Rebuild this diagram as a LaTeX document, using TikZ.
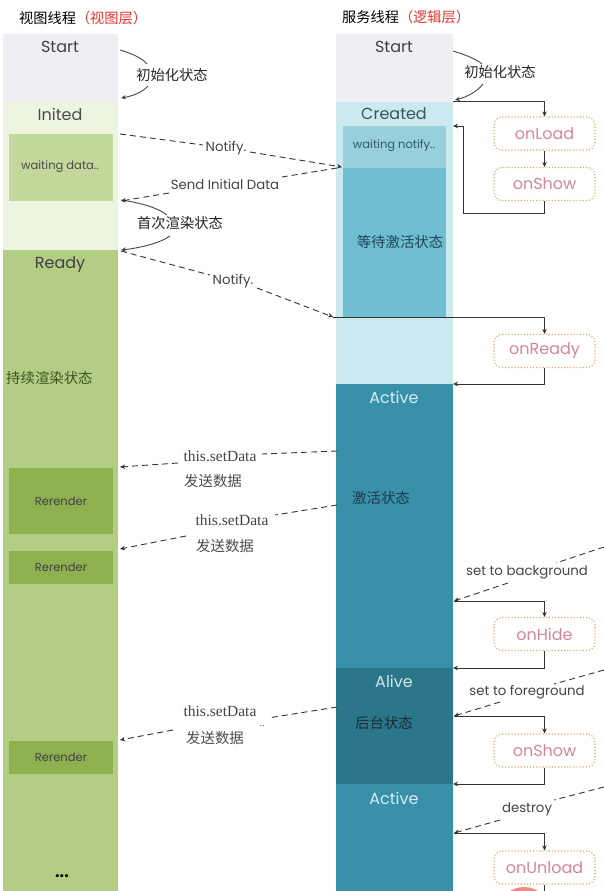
\documentclass[tikz,border=0pt]{standalone}
\usepackage{fontspec}
\setmainfont{Poppins}
\newfontfamily\cjk{Noto Sans CJK SC}
\newfontfamily\serifen{Liberation Serif}
\usetikzlibrary{arrows.meta}
\definecolor{cStart}{HTML}{EFEFF3}
\definecolor{cInit}{HTML}{EEF4E2}
\definecolor{cWaitD}{HTML}{C3D89C}
\definecolor{cReady}{HTML}{B3CD85}
\definecolor{cRer}{HTML}{8EB04F}
\definecolor{cCreated}{HTML}{CDE9F0}
\definecolor{cWaitN}{HTML}{98CFDC}
\definecolor{cWaitA}{HTML}{6EBDD0}
\definecolor{cActive}{HTML}{3891A9}
\definecolor{cAlive}{HTML}{2B7789}
\definecolor{lineC}{HTML}{333333}
\definecolor{txtC}{HTML}{444444}
\definecolor{hookB}{HTML}{DFA463}
\definecolor{hookT}{HTML}{D4869C}
\definecolor{redT}{HTML}{E8382E}
\definecolor{pinkC}{HTML}{F08A85}
\tikzset{
  blk/.style={anchor=north west, inner sep=0pt, outer sep=0pt, draw=none},
  big/.style={inner sep=0pt, font=\fontsize{16}{16}\selectfont},
  small/.style={inner sep=0pt, font=\fontsize{11.5}{12}\selectfont},
  lab/.style={inner sep=1pt, text=txtC, font=\fontsize{13.3}{14}\selectfont},
  cb/.style={inner sep=0pt, text=black!85, font=\cjk\fontsize{14.3}{15}\selectfont},
  cin/.style={inner sep=0pt, font=\cjk\fontsize{14.4}{15}\selectfont},
  sd/.style={inner sep=0pt, text=txtC, font=\serifen\fontsize{15.5}{16}\selectfont},
  hook/.style={draw=hookB, dotted, line width=1.1pt, rounded corners=8pt, fill=white,
    minimum width=101pt, minimum height=33pt, inner sep=0pt, text=hookT,
    font=\fontsize{16}{16}\selectfont},
  flow/.style={draw=lineC, line width=0.9pt, -{Stealth[length=5pt,width=4.5pt]}},
  plain/.style={draw=lineC, line width=0.9pt},
  dsh/.style={draw=lineC, line width=0.9pt, dash pattern=on 6pt off 4pt},
  dsharr/.style={dsh, -{Stealth[length=5pt,width=4.5pt]}},
  curv/.style={draw=lineC!90, line width=0.9pt},
  curvarr/.style={curv, -{Stealth[length=5pt,width=4.5pt]}}
}
\begin{document}
\begin{tikzpicture}[x=1pt,y=-1pt]
\useasboundingbox (0,0) rectangle (604,891);
\fill[white] (0,0) rectangle (604,891);

% titles
\node[anchor=west, inner sep=0pt, font=\cjk\fontsize{14.2}{15}\selectfont] (tl) at (19,18) {视图线程\textcolor{redT}{（视图层）}};
\node[anchor=west, inner sep=0pt, font=\cjk\fontsize{14.2}{15}\selectfont] (tr) at (342,17) {服务线程\textcolor{redT}{（逻辑层）}};

% left column
\node[blk, fill=cStart, minimum width=115pt, minimum height=67pt] (lS) at (3,34) {};
\node[blk, fill=cInit, minimum width=115pt, minimum height=149pt] (lI) at (3,101) {};
\node[blk, fill=cWaitD, minimum width=104pt, minimum height=67pt] (lW) at (9,134) {};
\node[blk, fill=cReady, minimum width=115pt, minimum height=641pt] (lR) at (3,250) {};
\node[blk, fill=cRer, minimum width=104pt, minimum height=66pt] (r1) at (9,468) {};
\node[blk, fill=cRer, minimum width=104pt, minimum height=33pt] (r2) at (9,551) {};
\node[blk, fill=cRer, minimum width=104pt, minimum height=33pt] (r3) at (9,741) {};

\node[big, text=black!75] (tlS) at (60,47) {Start};
\node[big, text=black!70] (tlI) at (60,114) {Inited};
\node[small, text=black!70] (tlW) at (60,167) {waiting data..};
\node[big, text=black!75] (tlR) at (60,265) {Ready};
\node[cin, anchor=west, text={rgb,255:red,60;green,85;blue,30}] (tlC) at (6,378) {持续渲染状态};
\node[small, text=black!75] at (r1.center) {Rerender};
\node[small, text=black!75] at (r2.center) {Rerender};
\node[small, text=black!75] at (r3.center) {Rerender};
\node[inner sep=0pt, font=\fontsize{16}{16}\selectfont\bfseries] (dots) at (62,876) {...};

% right column
\node[blk, fill=cStart, minimum width=117pt, minimum height=68pt] (rS) at (336,34) {};
\node[blk, fill=cCreated, minimum width=117pt, minimum height=282pt] (rC) at (336,102) {};
\node[blk, fill=cWaitN, minimum width=103pt, minimum height=42pt] (rWN) at (343,126) {};
\node[blk, fill=cWaitA, minimum width=103pt, minimum height=149pt] (rWA) at (343,168) {};
\node[blk, fill=cActive, minimum width=117pt, minimum height=284pt] (rA) at (336,384) {};
\node[blk, fill=cAlive, minimum width=117pt, minimum height=116pt] (rAl) at (336,668) {};
\node[blk, fill=cActive, minimum width=117pt, minimum height=107pt] (rA2) at (336,784) {};

\node[big, text=black!75] (trS) at (394,47) {Start};
\node[big, text={rgb,255:red,55;green,85;blue,92}] (trC) at (394,114) {Created};
\node[small, text={rgb,255:red,45;green,90;blue,105}] (trW) at (394,146) {waiting notify..};
\node[cin, text={rgb,255:red,30;green,70;blue,88}] (trWA) at (400,242) {等待激活状态};
\node[big, text={rgb,255:red,215;green,237;blue,243}] (trA) at (394,397) {Active};
\node[cin, text={rgb,255:red,28;green,58;blue,80}] (trJ) at (381,498) {激活状态};
\node[big, text={rgb,255:red,208;green,230;blue,236}] (trAl) at (394,681) {Alive};
\node[cin, text={rgb,255:red,25;green,45;blue,56}] (trH) at (384,723) {后台状态};
\node[big, text={rgb,255:red,215;green,237;blue,243}] (trA2) at (394,798) {Active};

% bottom pink circle (partially visible)
\begin{scope}
\clip (0,0) rectangle (604,891);
\fill[pinkC] (524,913) circle (26);
\end{scope}

% hooks
\node[hook] (onLoad) at (544.5,133.5) {onLoad};
\node[hook] (onShow) at (544.5,184) {onShow};
\node[hook] (onReady) at (544.5,351) {onReady};
\node[hook] (onHide) at (544.5,634) {onHide};
\node[hook] (onShowB) at (544.5,750.5) {onShow};
\node[hook] (onUnload) at (544.5,867.5) {onUnload};

% init curved arrows
\node[cb] (i1) at (172,75) {初始化状态};
\coordinate (i1a) at (120,50);
\coordinate (i1b) at (121,98);
\draw[curv] (i1a) .. controls (133,54) and (142,58) .. (147,64);
\draw[curvarr] (148,86) .. controls (143,92) and (133,96) .. (i1b);

\node[cb] (i2) at (500,72) {初始化状态};
\coordinate (i2a) at (453,51);
\coordinate (i2b) at (455,100);
\draw[curv] (i2a) .. controls (466,55) and (476,59) .. (482,64);
\draw[curvarr] (483,84) .. controls (478,91) and (467,97) .. (i2b);

\node[cb] (i3) at (180,223) {首次渲染状态};
\coordinate (i3a) at (121,200);
\coordinate (i3b) at (121,250);
\draw[curv] (i3a) .. controls (142,203) and (158,208) .. (167,215);
\draw[curvarr] (170,236) .. controls (160,243) and (140,248) .. (i3b);

% notify 1
\node[lab] (n1) at (226,148) {Notify.};
\coordinate (n1a) at (120,134);
\coordinate (n1b) at (342,167);
\draw[dsh] (n1a) -- (203,145);
\draw[dsharr] (250,152) -- (n1b);

% send initial data
\node[lab] (sid) at (225,184) {Send Initial Data};
\coordinate (sida) at (337,168);
\coordinate (sidb) at (121,201);
\draw[dsh] (sida) -- (282,177);
\draw[dsharr] (169,193) -- (sidb);

% notify 2
\node[lab] (n2) at (233,281) {Notify.};
\coordinate (n2a) at (121,251);
\coordinate (n2b) at (333,317);
\draw[dsh] (n2a) -- (210,275);
\draw[dsharr] (257,288) -- (n2b);

% setData 1
\node[sd] (s1) at (220,456) {this.setData};
\node[cin, text=black!70] (s1c) at (213,481) {发送数据};
\coordinate (s1a) at (337,451);
\coordinate (s1b) at (120,467);
\draw[dsh] (s1a) -- (262,454);
\draw[dsharr] (178,463) -- (s1b);

% setData 2
\node[sd] (s2) at (232,520) {this.setData};
\node[cin, text=black!70] (s2c) at (225,546) {发送数据};
\coordinate (s2a) at (337,505);
\coordinate (s2b) at (120,549);
\draw[dsh] (s2a) -- (275,515);
\draw[dsharr] (186,536) -- (s2b);

% setData 3
\node[sd] (s3) at (220,711) {this.setData};
\node[cin, text=black!70] (s3c) at (215,738) {发送数据};
\node[inner sep=0pt, text=txtC, font=\serifen\fontsize{10}{10}\selectfont] (s3d) at (262,726) {..};
\coordinate (s3a) at (337,707);
\coordinate (s3b) at (120,740);
\draw[dsh] (s3a) -- (268,718);
\draw[dsharr] (173,730) -- (s3b);

% created lifecycle
\coordinate (c1) at (453,101);
\coordinate (c2) at (453,126);
\draw[flow] (c1) -| (onLoad.north);
\draw[flow] (onLoad.south) -- (onShow.north);
\draw[flow] (onShow.south) -- (544.5,213) -- (463,213) -- (463,126) -- (c2);

% ready
\draw[flow] (n2b) -| (onReady.north);
\draw[flow] (onReady.south) |- (rA.north east);

% set to background
\node[lab] (bgt) at (527,572) {set to background};
\coordinate (bga) at (604,547);
\coordinate (bgb) at (454,601);
\draw[dsh] (bga) -- (556,563);
\draw[dsharr] (508,583) -- (bgb);
\draw[flow] (bgb) -| (onHide.north);
\draw[flow] (onHide.south) |- (rAl.north east);

% set to foreground
\node[lab] (fgt) at (527,692) {set to foreground};
\coordinate (fga) at (604,670);
\coordinate (fgb) at (454,716);
\draw[dsh] (fga) -- (554,684);
\draw[dsharr] (500,702) -- (fgb);
\draw[flow] (fgb) -| (onShowB.north);
\draw[flow] (onShowB.south) |- (rA2.north east);

% destroy
\node[lab] (dst) at (527,809) {destroy};
\coordinate (dsa) at (604,787);
\coordinate (dsb) at (454,833);
\draw[dsh] (dsa) -- (554,800);
\draw[dsharr] (500,820) -- (dsb);
\draw[flow] (dsb) -| (onUnload.north);
\coordinate (endc) at (544.5,891);
\draw[plain] (onUnload.south) -- (endc);
\end{tikzpicture}
\end{document}
